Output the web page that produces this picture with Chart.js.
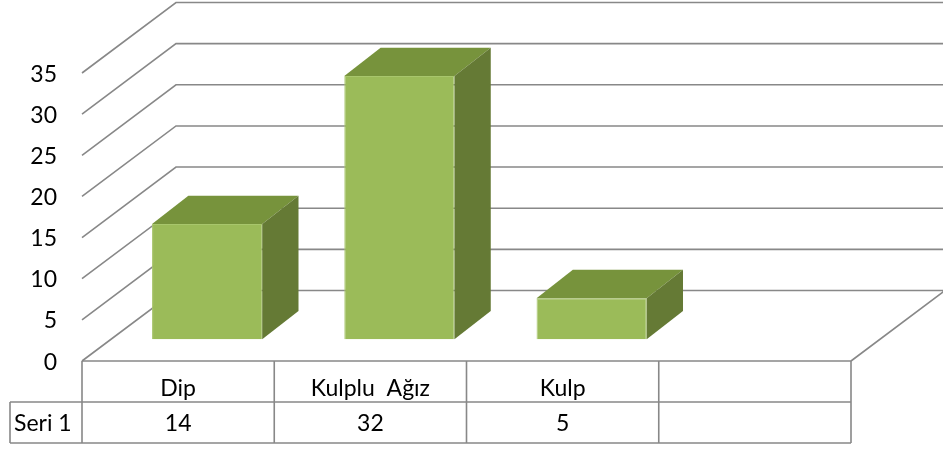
<!DOCTYPE html>
<html>
<head>
<meta charset="utf-8">
<script src="https://cdn.jsdelivr.net/npm/chart.js@4"></script>
<style>
  html, body { margin: 0; padding: 0; background: #fff; }
  #wrap { width: 943px; height: 450px; }
</style>
</head>
<body>
<div id="wrap"><canvas id="myChart" width="943" height="450"></canvas></div>
<script>
const categories = ['Dip', 'Kulplu  Ağız', 'Kulp', ''];
const seriesName = 'Seri 1';
const values = [14, 32, 5, null];
const yMax = 35;
const yStep = 5;

// 3D look: offset of the back wall and of the bars from the front plane
const WALL = { dx: 94, dy: -70.5 };
const BAR_PLANE = { dx: 29, dy: -21.7 };
const BAR_DEPTH = { dx: 36.3, dy: -28.3 };

const GRID = '#888888';
const FONT = '23px Lato, "Open Sans", sans-serif';

const frame3d = {
    id: 'frame3d',
    beforeDatasetsDraw(chart) {
        const { ctx, chartArea: a } = chart;
        const yScale = chart.scales.y;
        const xScale = chart.scales.x;
        ctx.save();
        ctx.strokeStyle = GRID;
        ctx.lineWidth = 1.6;
        ctx.beginPath();
        yScale.ticks.forEach(t => {
            const y = yScale.getPixelForValue(t.value);
            // side wall diagonal + back wall line
            ctx.moveTo(a.left, y);
            ctx.lineTo(a.left + WALL.dx, y + WALL.dy);
            ctx.lineTo(a.right + WALL.dx, y + WALL.dy);
        });
        // right edge of the floor
        const y0 = yScale.getPixelForValue(0);
        ctx.moveTo(a.right, y0);
        ctx.lineTo(a.right + WALL.dx, y0 + WALL.dy);
        ctx.stroke();

        // y tick labels on the front plane
        ctx.fillStyle = '#000';
        ctx.font = FONT;
        ctx.textAlign = 'right';
        ctx.textBaseline = 'alphabetic';
        yScale.ticks.forEach(t => {
            ctx.fillText(String(t.value), 57, yScale.getPixelForValue(t.value) + 8.5);
        });

        // data table under the floor
        const catW = (a.right - a.left) / categories.length;
        const rowH = 41;
        const top = y0;
        const mid = top + rowH;
        const bottom = mid + rowH;
        const tableLeft = 10;
        ctx.lineWidth = 1.6;
        ctx.beginPath();
        ctx.moveTo(a.left, top);
        ctx.lineTo(a.right, top);
        ctx.moveTo(tableLeft, mid);
        ctx.lineTo(a.right, mid);
        ctx.moveTo(tableLeft, bottom);
        ctx.lineTo(a.right, bottom);
        ctx.moveTo(tableLeft, mid);
        ctx.lineTo(tableLeft, bottom);
        for (let i = 0; i <= categories.length; i++) {
            const x = a.left + i * catW;
            ctx.moveTo(x, top);
            ctx.lineTo(x, bottom);
        }
        ctx.stroke();

        ctx.textAlign = 'center';
        categories.forEach((c, i) => {
            const cx = xScale.getPixelForValue(i);
            ctx.fillText(c, cx, top + 35);
            const v = values[i];
            ctx.fillText(v == null ? '' : String(v), cx, mid + 29);
        });
        ctx.textAlign = 'left';
        ctx.fillText(seriesName, 14, mid + 29);
        ctx.restore();

        // bars are drawn on a plane set back from the front
        ctx.save();
        ctx.translate(BAR_PLANE.dx, BAR_PLANE.dy);
    },
    afterDatasetsDraw(chart) {
        const { ctx } = chart;
        const meta = chart.getDatasetMeta(0);
        meta.data.forEach((bar, i) => {
            if (values[i] == null) return;
            const { x, y, base, width } = bar.getProps(['x', 'y', 'base', 'width'], true);
            const l = x - width / 2;
            const r = x + width / 2;
            // top face
            ctx.fillStyle = '#77933C';
            ctx.beginPath();
            ctx.moveTo(l, y);
            ctx.lineTo(r, y);
            ctx.lineTo(r + BAR_DEPTH.dx, y + BAR_DEPTH.dy);
            ctx.lineTo(l + BAR_DEPTH.dx, y + BAR_DEPTH.dy);
            ctx.closePath();
            ctx.fill();
            // right face
            ctx.fillStyle = '#657A35';
            ctx.beginPath();
            ctx.moveTo(r, y);
            ctx.lineTo(r + BAR_DEPTH.dx, y + BAR_DEPTH.dy);
            ctx.lineTo(r + BAR_DEPTH.dx, base + BAR_DEPTH.dy);
            ctx.lineTo(r, base);
            ctx.closePath();
            ctx.fill();
        });
        ctx.restore();
    }
};

new Chart(document.getElementById('myChart').getContext('2d'), {
    type: 'bar',
    data: {
        labels: categories,
        datasets: [{
            label: seriesName,
            data: values,
            backgroundColor: '#9BBB59',
            borderColor: '#A8C66C',
            borderWidth: 1,
            barPercentage: 0.573,
            categoryPercentage: 1,
            clip: false
        }]
    },
    options: {
        responsive: false,
        animation: false,
        layout: { padding: { left: 82, right: 92, top: 73, bottom: 89 } },
        plugins: {
            legend: { display: false },
            tooltip: { enabled: false }
        },
        scales: {
            x: { display: false },
            y: {
                display: false,
                min: 0,
                max: yMax,
                ticks: { stepSize: yStep }
            }
        }
    },
    plugins: [frame3d]
});
</script>
</body>
</html>
